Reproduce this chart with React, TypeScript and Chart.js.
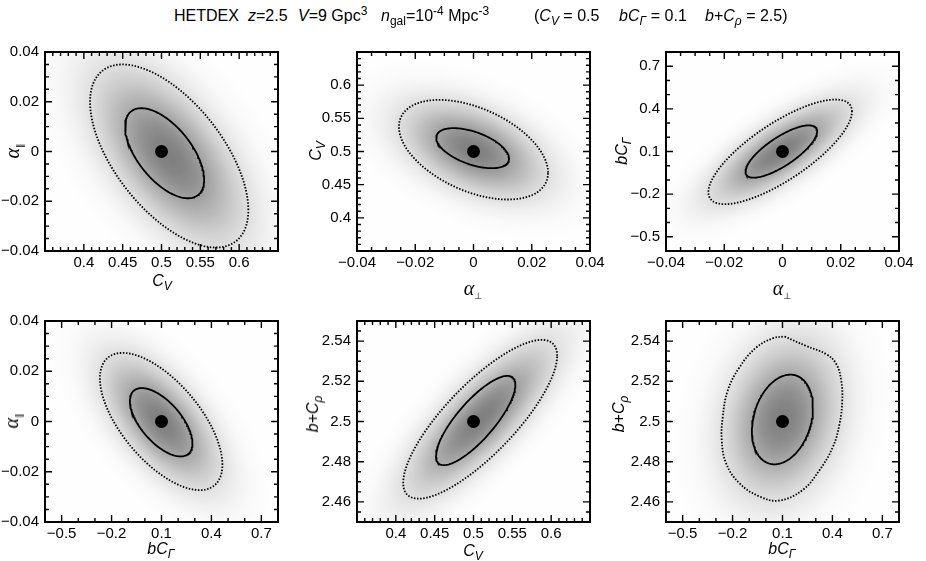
import React, { useEffect, useRef } from 'react';
import { Chart, registerables } from 'chart.js';

Chart.register(...registerables);

const SANS = '"Liberation Sans", Arial, Helvetica, sans-serif';
const SERIF = '"Liberation Serif", "DejaVu Serif", serif';
Chart.defaults.font.family = SANS;

// ---------------- data ----------------
// panel order: top row (Cv–α∥, α⊥–Cv, α⊥–bCΓ), bottom row (bCΓ–α∥, Cv–b+Cρ, bCΓ–b+Cρ)
const X_AXIS = ['cv', 'alpha', 'alpha', 'bcg', 'cv', 'bcg'];
const Y_AXIS = ['alpha', 'cv', 'bcg', 'alpha', 'bcr', 'bcr'];
const X_MIN = [0.35, -0.04, -0.04, -0.6, 0.35, -0.6];
const X_MAX = [0.65, 0.04, 0.04, 0.8, 0.65, 0.8];
const Y_MIN = [-0.04, 0.35, -0.6, -0.04, 2.45, 2.45];
const Y_MAX = [0.04, 0.65, 0.8, 0.04, 2.55, 2.55];

const TICKS_CV = [0.4, 0.45, 0.5, 0.55, 0.6];
const LABELS_CV = ['0.4', '0.45', '0.5', '0.55', '0.6'];
const TICKS_ALPHA = [-0.04, -0.02, 0, 0.02, 0.04];
const LABELS_ALPHA = ['\u22120.04', '\u22120.02', '0', '0.02', '0.04'];
const TICKS_BCG = [-0.5, -0.2, 0.1, 0.4, 0.7];
const LABELS_BCG = ['\u22120.5', '\u22120.2', '0.1', '0.4', '0.7'];
const TICKS_BCR = [2.46, 2.48, 2.5, 2.52, 2.54];
const LABELS_BCR = ['2.46', '2.48', '2.5', '2.52', '2.54'];
const MINOR_STEP: Record<string, number> = { cv: 0.01, alpha: 0.005, bcg: 0.1, bcr: 0.005 };

// fiducial values
const FID_X = [0.5, 0, 0, 0.1, 0.5, 0.1];
const FID_Y = [0, 0.5, 0.1, 0, 2.5, 2.5];

// inner (solid) contour: centre, half-extents, correlation
const SOLID_CX = [0.504, -0.0003, -0.0004, 0.098, 0.5028, 0.0995];
const SOLID_CY = [-0.0007, 0.505, 0.1, -0.0003, 2.5005, 2.501];
const SOLID_SX = [0.0509, 0.0125, 0.0123, 0.188, 0.0511, 0.1835];
const SOLID_SY = [0.0181, 0.0302, 0.184, 0.0136, 0.0222, 0.0223];
const SOLID_RHO = [-0.59, -0.52, 0.77, -0.62, 0.8, 0.26];

// outer (dotted) contour: centre, half-extents, correlation
const OUTER_CX = [0.5099, 0.0, -0.0008, 0.098, 0.5086, 0.1];
const OUTER_CY = [-0.0018, 0.5027, 0.0977, 0.0, 2.5011, 2.5015];
const OUTER_SX = [0.1019, 0.0256, 0.02465, 0.368, 0.0991, 0.362];
const OUTER_SY = [0.0368, 0.0751, 0.368, 0.0273, 0.0395, 0.0408];
const OUTER_RHO = [-0.59, -0.46, 0.77, -0.63, 0.8, 0.2];

// last panel's dotted contour is irregular: read point by point
const OUTER6_X = [0.112, 0.242, 0.363, 0.423, 0.453, 0.459, 0.443, 0.403, 0.323, 0.222, 0.082, -0.038, -0.159, -0.239, -0.265, -0.259, -0.229, -0.159, -0.058, 0.042];
const OUTER6_Y = [2.5423, 2.5376, 2.5335, 2.5286, 2.5203, 2.5105, 2.4989, 2.4874, 2.4759, 2.466, 2.4607, 2.4627, 2.4693, 2.4792, 2.4907, 2.5022, 2.5154, 2.5269, 2.5368, 2.5414];

const X_TITLE = ['cv', 'aperp', 'aperp', 'bcg', 'cv', 'bcg'];
const Y_TITLE = ['apar', 'cv', 'bcg', 'apar', 'bcr', 'bcr'];

// ---------------- layout / style ----------------
const AXIS_TICKS: Record<string, number[]> = { cv: TICKS_CV, alpha: TICKS_ALPHA, bcg: TICKS_BCG, bcr: TICKS_BCR };
const AXIS_LABELS: Record<string, string[]> = { cv: LABELS_CV, alpha: LABELS_ALPHA, bcg: LABELS_BCG, bcr: LABELS_BCR };
const COL_LEFT = [45, 357, 666];
const ROW_TOP = [51, 320];
const ROW_H = [200, 202];
const PLOT_W = 233;
const Y_AXIS_W = 60;
const PAD_TOP = 14;
const PAD_RIGHT = 28;
const X_AXIS_H = 36;
const MAJOR_LEN = 7;
const MINOR_LEN = 4;
const SHADE_DARK = 128;
const SHADE_K = 1.4;
const X_TITLE_POS = [[162, 281], [473, 288], [782, 288], [161, 549], [473, 551], [782, 549]];
const Y_TITLE_POS = [[12, 151], [316, 151], [622, 151], [11, 421], [313, 414], [619, 414]];

function ellipsePts(cx: number, cy: number, sx: number, sy: number, rho: number) {
  const q = Math.sqrt(1 - rho * rho);
  const pts: { x: number; y: number }[] = [];
  const n = 180;
  for (let k = 0; k <= n; k++) {
    const t = (2 * Math.PI * k) / n;
    pts.push({ x: cx + sx * Math.cos(t), y: cy + sy * (rho * Math.cos(t) + q * Math.sin(t)) });
  }
  return pts;
}

function buildChart(canvas: HTMLCanvasElement, i: number) {
  const xk = X_AXIS[i];
  const yk = Y_AXIS[i];
  const inner = ellipsePts(SOLID_CX[i], SOLID_CY[i], SOLID_SX[i], SOLID_SY[i], SOLID_RHO[i]);
  let outer: { x: number; y: number }[];
  let outerTension = 0;
  if (i === 5) {
    outer = OUTER6_X.map((x, k) => ({ x, y: OUTER6_Y[k] }));
    outer.push(outer[0]);
    outerTension = 0.4;
  } else {
    outer = ellipsePts(OUTER_CX[i], OUTER_CY[i], OUTER_SX[i], OUTER_SY[i], OUTER_RHO[i]);
  }

  const shade = {
    id: 'shade' + i,
    beforeDatasetsDraw(chart: any) {
      const { ctx, chartArea: ca, scales } = chart;
      const xs = scales.x;
      const ys = scales.y;
      const px = xs.getPixelForValue(OUTER_CX[i]);
      const py = ys.getPixelForValue(OUTER_CY[i]);
      const kx = (xs.getPixelForValue(X_MAX[i]) - xs.getPixelForValue(X_MIN[i])) / (X_MAX[i] - X_MIN[i]);
      const ky = (ys.getPixelForValue(Y_MIN[i]) - ys.getPixelForValue(Y_MAX[i])) / (Y_MAX[i] - Y_MIN[i]);
      const rho = OUTER_RHO[i];
      const q = Math.sqrt(1 - rho * rho);
      ctx.save();
      ctx.fillStyle = '#fff';
      ctx.fillRect(ca.left, ca.top, ca.right - ca.left, ca.bottom - ca.top);
      ctx.beginPath();
      ctx.rect(ca.left, ca.top, ca.right - ca.left, ca.bottom - ca.top);
      ctx.clip();
      ctx.translate(px, py);
      ctx.transform(kx * OUTER_SX[i], -ky * OUTER_SY[i] * rho, 0, -ky * OUTER_SY[i] * q, 0, 0);
      const R = 1.9;
      const g = ctx.createRadialGradient(0, 0, 0, 0, 0, R);
      const n = 40;
      for (let s = 0; s <= n; s++) {
        const r = (R * s) / n;
        const c = Math.round(255 - SHADE_DARK * Math.exp(-SHADE_K * r * r));
        g.addColorStop(s / n, `rgb(${c},${c},${c})`);
      }
      ctx.fillStyle = g;
      ctx.fillRect(-5, -5, 10, 10);
      ctx.restore();
    },
  };

  const frame = {
    id: 'frame' + i,
    afterDatasetsDraw(chart: any) {
      const { ctx, chartArea: ca, scales } = chart;
      const xs = scales.x;
      const ys = scales.y;
      ctx.save();
      ctx.strokeStyle = '#000';
      ctx.lineWidth = 1.4;
      ctx.beginPath();
      const sx = MINOR_STEP[xk];
      const nx = Math.round((X_MAX[i] - X_MIN[i]) / sx);
      for (let k = 1; k < nx; k++) {
        const p = xs.getPixelForValue(X_MIN[i] + k * sx);
        ctx.moveTo(p, ca.bottom); ctx.lineTo(p, ca.bottom - MINOR_LEN);
        ctx.moveTo(p, ca.top); ctx.lineTo(p, ca.top + MINOR_LEN);
      }
      for (const v of AXIS_TICKS[xk]) {
        const p = xs.getPixelForValue(v);
        ctx.moveTo(p, ca.bottom); ctx.lineTo(p, ca.bottom - MAJOR_LEN);
        ctx.moveTo(p, ca.top); ctx.lineTo(p, ca.top + MAJOR_LEN);
      }
      const sy = MINOR_STEP[yk];
      const ny = Math.round((Y_MAX[i] - Y_MIN[i]) / sy);
      for (let k = 1; k < ny; k++) {
        const p = ys.getPixelForValue(Y_MIN[i] + k * sy);
        ctx.moveTo(ca.left, p); ctx.lineTo(ca.left + MINOR_LEN, p);
        ctx.moveTo(ca.right, p); ctx.lineTo(ca.right - MINOR_LEN, p);
      }
      for (const v of AXIS_TICKS[yk]) {
        const p = ys.getPixelForValue(v);
        ctx.moveTo(ca.left, p); ctx.lineTo(ca.left + MAJOR_LEN, p);
        ctx.moveTo(ca.right, p); ctx.lineTo(ca.right - MAJOR_LEN, p);
      }
      ctx.stroke();
      ctx.lineWidth = 2;
      ctx.strokeRect(ca.left, ca.top, ca.right - ca.left, ca.bottom - ca.top);
      ctx.restore();
    },
  };

  const axis = (key: string, min: number, max: number, horizontal: boolean) => ({
    type: 'linear',
    min,
    max,
    grid: { display: false, drawTicks: false },
    border: { display: false },
    afterBuildTicks: (s: any) => {
      s.ticks = AXIS_TICKS[key].map((v) => ({ value: v }));
    },
    afterFit: (s: any) => {
      if (horizontal) s.height = X_AXIS_H;
      else s.width = Y_AXIS_W;
    },
    ticks: {
      autoSkip: false,
      maxRotation: 0,
      minRotation: 0,
      padding: horizontal ? 3 : 6,
      color: '#000',
      font: { family: SANS, size: 15 },
      callback: (_v: any, idx: number) => AXIS_LABELS[key][idx],
    },
  });

  return new Chart(canvas, {
    type: 'scatter',
    data: {
      datasets: [
        { data: outer, showLine: true, borderColor: '#000', borderWidth: 1.8, borderDash: [1.5, 1.6], pointRadius: 0, tension: outerTension, fill: false },
        { data: inner, showLine: true, borderColor: '#000', borderWidth: 1.8, pointRadius: 0, fill: false },
        { data: [{ x: FID_X[i], y: FID_Y[i] }], pointRadius: 6.5, backgroundColor: '#000', borderWidth: 0, showLine: false },
      ],
    } as any,
    options: {
      animation: false,
      responsive: false,
      devicePixelRatio: 1,
      events: [],
      layout: { padding: { top: PAD_TOP, right: PAD_RIGHT, left: 0, bottom: 0 } },
      plugins: { legend: { display: false }, tooltip: { enabled: false }, title: { display: false } },
      scales: {
        x: axis(xk, X_MIN[i], X_MAX[i], true),
        y: axis(yk, Y_MIN[i], Y_MAX[i], false),
      },
    } as any,
    plugins: [shade, frame],
  });
}

function Panel({ index }: { index: number }) {
  const ref = useRef<HTMLCanvasElement>(null);
  const col = index % 3;
  const row = Math.floor(index / 3);
  const w = Y_AXIS_W + PLOT_W + PAD_RIGHT;
  const h = PAD_TOP + ROW_H[row] + X_AXIS_H;
  useEffect(() => {
    const chart = buildChart(ref.current as HTMLCanvasElement, index);
    return () => chart.destroy();
  }, [index]);
  return (
    <canvas
      ref={ref}
      width={w}
      height={h}
      style={{ position: 'absolute', left: COL_LEFT[col] - Y_AXIS_W, top: ROW_TOP[row] - PAD_TOP, width: w, height: h }}
    />
  );
}

const Sub = ({ children, size = '0.75em' }: { children: React.ReactNode; size?: string }) => (
  <span style={{ fontSize: size, position: 'relative', top: '0.3em' }}>{children}</span>
);
const Sup = ({ children }: { children: React.ReactNode }) => (
  <span style={{ fontSize: '0.75em', position: 'relative', top: '-0.5em' }}>{children}</span>
);

function AxisText({ k }: { k: string }) {
  if (k === 'cv')
    return (
      <span style={{ fontFamily: SANS, fontSize: 16, fontStyle: 'italic' }}>
        C<Sub>V</Sub>
      </span>
    );
  if (k === 'apar' || k === 'aperp')
    return (
      <span>
        <span style={{ fontFamily: SERIF, fontSize: 20, fontStyle: 'italic' }}>α</span>
        <span style={{ fontFamily: '"DejaVu Sans", sans-serif', fontSize: 9, position: 'relative', top: 4 }}>
          {k === 'apar' ? '\u2225' : '\u22A5'}
        </span>
      </span>
    );
  if (k === 'bcg')
    return (
      <span style={{ fontFamily: SANS, fontSize: 16, fontStyle: 'italic' }}>
        bC<Sub>Γ</Sub>
      </span>
    );
  return (
    <span style={{ fontFamily: SANS, fontSize: 16, fontStyle: 'italic' }}>
      b+C<Sub>ρ</Sub>
    </span>
  );
}

const TITLE_SEGMENTS: [number, React.ReactNode][] = [
  [174, <>HETDEX</>],
  [248, <><i>z</i>=2.5</>],
  [298, <><i>V</i>=9 Gpc<Sup>3</Sup></>],
  [381, <><i>n</i><Sub>gal</Sub>=10<Sup>-4</Sup> Mpc<Sup>-3</Sup></>],
  [534, <>(<i>C<Sub>V</Sub></i> = 0.5</>],
  [619, <><i>bC<Sub>Γ</Sub></i> = 0.1</>],
  [705, <><i>b</i>+<i>C<Sub>ρ</Sub></i> = 2.5)</>],
];

export default function App() {
  return (
    <div
      style={{
        position: 'absolute',
        left: 0,
        top: 0,
        width: 926,
        height: 561,
        background: '#fff',
        overflow: 'hidden',
        fontFamily: SANS,
        color: '#000',
      }}
    >
      {[0, 1, 2, 3, 4, 5].map((i) => (
        <Panel key={i} index={i} />
      ))}
      {TITLE_SEGMENTS.map(([left, node], k) => (
        <span
          key={k}
          style={{ position: 'absolute', left, top: 8, fontSize: 16, lineHeight: '16px', whiteSpace: 'nowrap' }}
        >
          {node}
        </span>
      ))}
      {X_TITLE.map((k, i) => (
        <div
          key={'xt' + i}
          style={{
            position: 'absolute',
            left: X_TITLE_POS[i][0],
            top: X_TITLE_POS[i][1],
            transform: 'translate(-50%, -50%)',
            whiteSpace: 'nowrap',
            lineHeight: 1,
          }}
        >
          <AxisText k={k} />
        </div>
      ))}
      {Y_TITLE.map((k, i) => (
        <div
          key={'yt' + i}
          style={{
            position: 'absolute',
            left: Y_TITLE_POS[i][0],
            top: Y_TITLE_POS[i][1],
            transform: 'translate(-50%, -50%) rotate(-90deg)',
            whiteSpace: 'nowrap',
            lineHeight: 1,
          }}
        >
          <AxisText k={k} />
        </div>
      ))}
    </div>
  );
}
